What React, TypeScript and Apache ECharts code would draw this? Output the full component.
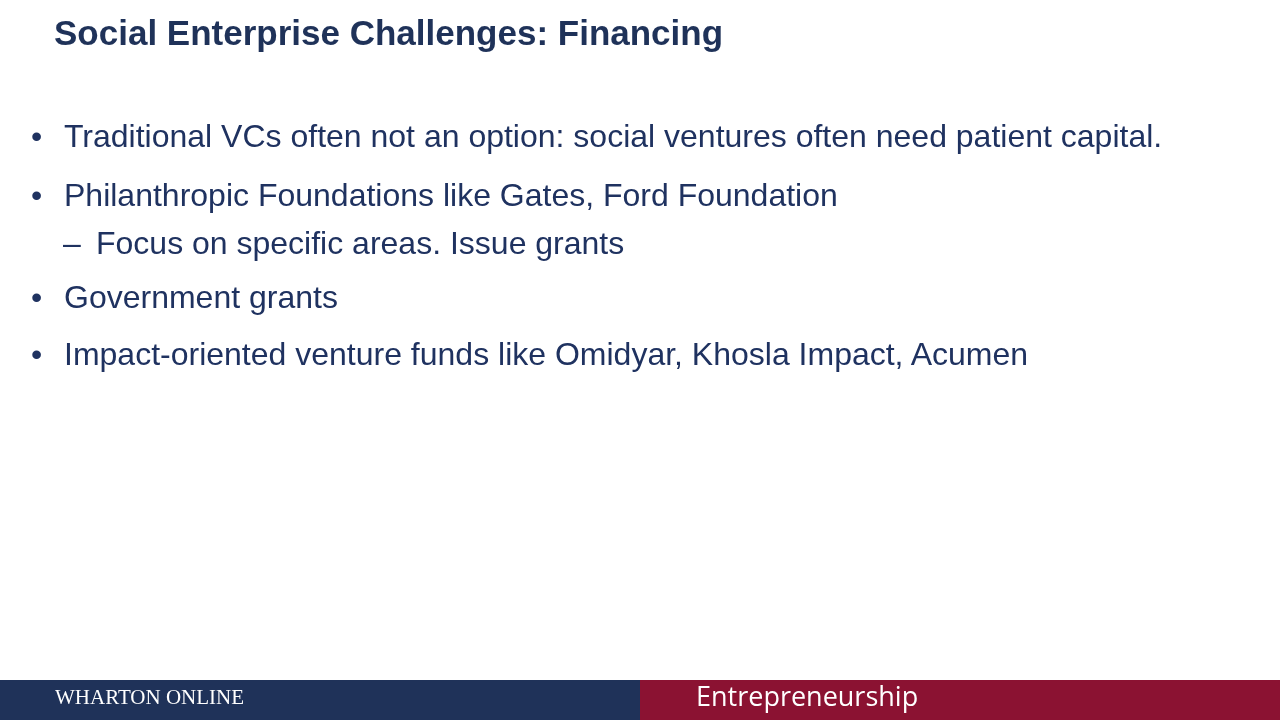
import React, { useEffect, useRef } from "react";
import * as echarts from "echarts";

const titleText = "Social Enterprise Challenges: Financing";
const bulletTexts = [
  "Traditional VCs often not an option: social ventures often need patient capital.",
  "Philanthropic Foundations like Gates, Ford Foundation",
  "Focus on specific areas. Issue grants",
  "Government grants",
  "Impact-oriented venture funds like Omidyar, Khosla Impact, Acumen",
];
const bulletLevels = [0, 0, 1, 0, 0];
const bulletYs = [136, 195, 243, 297, 354];
const footerLeft = "WHARTON ONLINE";
const footerRight = "Entrepreneurship";

const NAVY = "#1F3259";
const TEXT = "#1F3260";
const CRIMSON = "#8B1232";
const SANS = "Liberation Sans, Arial, sans-serif";

export default function App() {
  const ref = useRef<HTMLDivElement>(null);
  useEffect(() => {
    document.body.style.margin = "0";
    const chart = echarts.init(ref.current!, null, { renderer: "svg" });
    const elements: any[] = [];
    elements.push({
      type: "rect",
      shape: { x: 0, y: 0, width: 1280, height: 720 },
      style: { fill: "#ffffff" },
      silent: true,
    });
    elements.push({
      type: "text",
      x: 54,
      y: 32,
      style: {
        text: titleText,
        fontFamily: SANS,
        fontWeight: "bold",
        fontSize: 35,
        fill: NAVY,
        verticalAlign: "middle",
      },
    });
    bulletTexts.forEach((t, i) => {
      const lvl = bulletLevels[i];
      const y = bulletYs[i];
      elements.push({
        type: "text",
        x: lvl === 0 ? 31 : 63,
        y,
        style: {
          text: lvl === 0 ? "•" : "–",
          fontFamily: SANS,
          fontSize: 32,
          fill: TEXT,
          verticalAlign: "middle",
        },
      });
      elements.push({
        type: "text",
        x: lvl === 0 ? 64 : 96,
        y,
        style: {
          text: t,
          fontFamily: SANS,
          fontSize: 32,
          fill: TEXT,
          verticalAlign: "middle",
        },
      });
    });
    elements.push({
      type: "rect",
      shape: { x: 0, y: 680, width: 640, height: 40 },
      style: { fill: NAVY },
    });
    elements.push({
      type: "rect",
      shape: { x: 640, y: 680, width: 640, height: 40 },
      style: { fill: CRIMSON },
    });
    elements.push({
      type: "text",
      x: 55,
      y: 697,
      style: {
        text: footerLeft,
        fontFamily: "Liberation Serif, Times New Roman, serif",
        fontSize: 21,
        fill: "#ffffff",
        verticalAlign: "middle",
      },
    });
    elements.push({
      type: "text",
      x: 696,
      y: 695,
      style: {
        text: footerRight,
        fontFamily: "Open Sans, sans-serif",
        fontSize: 27,
        fill: "#ffffff",
        verticalAlign: "middle",
      },
    });
    chart.setOption({ animation: false, graphic: { elements } });
    return () => chart.dispose();
  }, []);
  return (
    <div
      ref={ref}
      style={{ position: "fixed", left: 0, top: 0, width: 1280, height: 720 }}
    />
  );
}
